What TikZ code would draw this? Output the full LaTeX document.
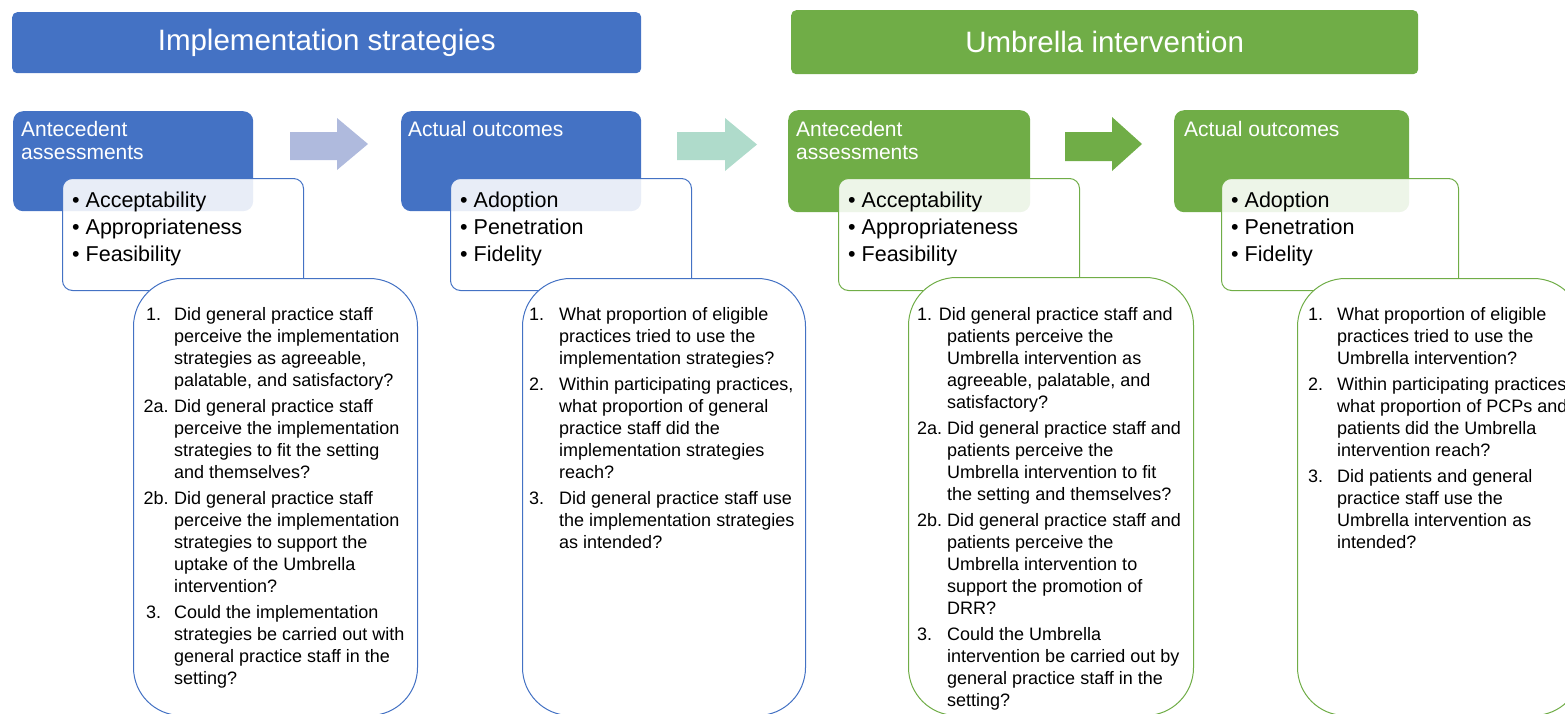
\documentclass[tikz,border=0pt]{standalone}
\usepackage{fontspec}
\setmainfont{Liberation Sans}
\definecolor{iblue}{HTML}{4472C4}
\definecolor{ugreen}{HTML}{70AD47}
\definecolor{arrblue}{HTML}{AFBADD}
\definecolor{arrmint}{HTML}{AFDBCB}
% multi-line texts are placed by the baseline of their last line
\tikzset{
  header/.style={fill=#1, rounded corners=5pt, anchor=north west, inner sep=0pt,
    text=white, font=\fontsize{29.5}{34}\selectfont},
  darkbox/.style={fill=#1, rounded corners=10pt, anchor=north west, inner sep=0pt},
  listbox/.style={draw=#1, line width=1pt, fill=white, fill opacity=0.88,
    rounded corners=10pt, anchor=north west, inner sep=0pt},
  qbox/.style={draw=#1, line width=1pt, fill=white, rounded corners=48pt,
    anchor=north west, inner sep=0pt},
  lbl/.style={anchor=base west, inner sep=0pt, text=white, align=left,
    font=\fontsize{21}{23.5}\selectfont},
  bul/.style={anchor=base west, inner sep=0pt, align=left,
    font=\fontsize{21.5}{27}\selectfont},
  qt/.style={anchor=base west, inner sep=0pt, align=left,
    font=\fontsize{18}{22}\selectfont},
  blockarrow/.style={fill=#1},
}
\begin{document}
\begin{tikzpicture}[x=1pt,y=-1pt]
\useasboundingbox (0,0) rectangle (1565,713);
\clip (0,0) rectangle (1565,713);

% section headers
\node[header=iblue, minimum width=629pt, minimum height=61pt] (hImpl) at (12,12) {Implementation strategies};
\node[header=ugreen, minimum width=627pt, minimum height=64pt] (hUmb) at (791,10) {Umbrella intervention};

% ---------- implementation strategies: antecedent assessments ----------
\node[darkbox=iblue, minimum width=240pt, minimum height=100pt] (dA1) at (13,111) {};
\node[lbl] (tA1) at (21,159.5) {Antecedent\\assessments};
\node[listbox=iblue, minimum width=241pt, minimum height=112pt] (lA1) at (62,178) {};
\node[bul] (bA1) at (72,261) {• Acceptability\\• Appropriateness\\• Feasibility};
\node[qbox=iblue, minimum width=284pt, minimum height=437pt] (qA1) at (133,278) {};
\node[qt] (nA1a) at (146,320) {1.};
\node[qt] (xA1a) at (174,386) {Did general practice staff\\perceive the implementation\\strategies as agreeable,\\palatable, and satisfactory?};
\node[qt] (nA1b) at (143.5,412) {2a.};
\node[qt] (xA1b) at (174,478) {Did general practice staff\\perceive the implementation\\strategies to fit the setting\\and themselves?};
\node[qt] (nA1c) at (143.5,504) {2b.};
\node[qt] (xA1c) at (174,592) {Did general practice staff\\perceive the implementation\\strategies to support the\\uptake of the Umbrella\\intervention?};
\node[qt] (nA1d) at (146,618) {3.};
\node[qt] (xA1d) at (174,684) {Could the implementation\\strategies be carried out with\\general practice staff in the\\setting?};

% ---------- implementation strategies: actual outcomes ----------
\node[darkbox=iblue, minimum width=240pt, minimum height=100pt] (dO1) at (401,111) {};
\node[lbl] (tO1) at (408,136) {Actual outcomes};
\node[listbox=iblue, minimum width=241pt, minimum height=112pt] (lO1) at (450,178) {};
\node[bul] (bO1) at (460,261) {• Adoption\\• Penetration\\• Fidelity};
\node[qbox=iblue, minimum width=283pt, minimum height=437pt] (qO1) at (522,278) {};
\node[qt] (nO1a) at (529,320) {1.};
\node[qt] (xO1a) at (559,364) {What proportion of eligible\\practices tried to use the\\implementation strategies?};
\node[qt] (nO1b) at (529,390) {2.};
\node[qt] (xO1b) at (559,478) {Within participating practices,\\what proportion of general\\practice staff did the\\implementation strategies\\reach?};
\node[qt] (nO1c) at (529,504) {3.};
\node[qt] (xO1c) at (559,548) {Did general practice staff use\\the implementation strategies\\as intended?};

% ---------- Umbrella intervention: antecedent assessments ----------
\node[darkbox=ugreen, minimum width=242pt, minimum height=102pt] (dA2) at (788,110) {};
\node[lbl] (tA2) at (796,159.5) {Antecedent\\assessments};
\node[listbox=ugreen, minimum width=241pt, minimum height=112pt] (lA2) at (838,178) {};
\node[bul] (bA2) at (848,261) {• Acceptability\\• Appropriateness\\• Feasibility};
\node[qbox=ugreen, minimum width=285pt, minimum height=438pt] (qA2) at (908,277) {};
\node[qt] (xA2a) at (917,320) {1. Did general practice staff and};
\node[qt] (yA2a) at (947,408) {patients perceive the\\Umbrella intervention as\\agreeable, palatable, and\\satisfactory?};
\node[qt] (nA2b) at (917,434) {2a.};
\node[qt] (xA2b) at (947,500) {Did general practice staff and\\patients perceive the\\Umbrella intervention to fit\\the setting and themselves?};
\node[qt] (nA2c) at (917,526) {2b.};
\node[qt] (xA2c) at (947,614) {Did general practice staff and\\patients perceive the\\Umbrella intervention to\\support the promotion of\\DRR?};
\node[qt] (nA2d) at (917,640) {3.};
\node[qt] (xA2d) at (947,706) {Could the Umbrella\\intervention be carried out by\\general practice staff in the\\setting?};

% ---------- Umbrella intervention: actual outcomes ----------
\node[darkbox=ugreen, minimum width=235pt, minimum height=102pt] (dO2) at (1174,110) {};
\node[lbl] (tO2) at (1184,136) {Actual outcomes};
\node[listbox=ugreen, minimum width=237pt, minimum height=112pt] (lO2) at (1221,178) {};
\node[bul] (bO2) at (1231,261) {• Adoption\\• Penetration\\• Fidelity};
\node[qbox=ugreen, minimum width=284pt, minimum height=437pt] (qO2) at (1297,278) {};
\node[qt] (nO2a) at (1308,320) {1.};
\node[qt] (xO2a) at (1337,364) {What proportion of eligible\\practices tried to use the\\Umbrella intervention?};
\node[qt] (nO2b) at (1308,390) {2.};
\node[qt] (xO2b) at (1337,456) {Within participating practices,\\what proportion of PCPs and\\patients did the Umbrella\\intervention reach?};
\node[qt] (nO2c) at (1308,482) {3.};
\node[qt] (xO2c) at (1337,548) {Did patients and general\\practice staff use the\\Umbrella intervention as\\intended?};

% block arrows between the stages
\fill[blockarrow=arrblue] (290,132) -- (337,132) -- (337,118) -- (368,144) -- (337,170) -- (337,160) -- (290,160) -- cycle;
\fill[blockarrow=arrmint] (677,132) -- (725,132) -- (725,118) -- (757,144.5) -- (725,171) -- (725,160) -- (677,160) -- cycle;
\fill[blockarrow=ugreen] (1065,132) -- (1112,132) -- (1112,117) -- (1142,144) -- (1112,171) -- (1112,161) -- (1065,161) -- cycle;
\end{tikzpicture}
\end{document}
